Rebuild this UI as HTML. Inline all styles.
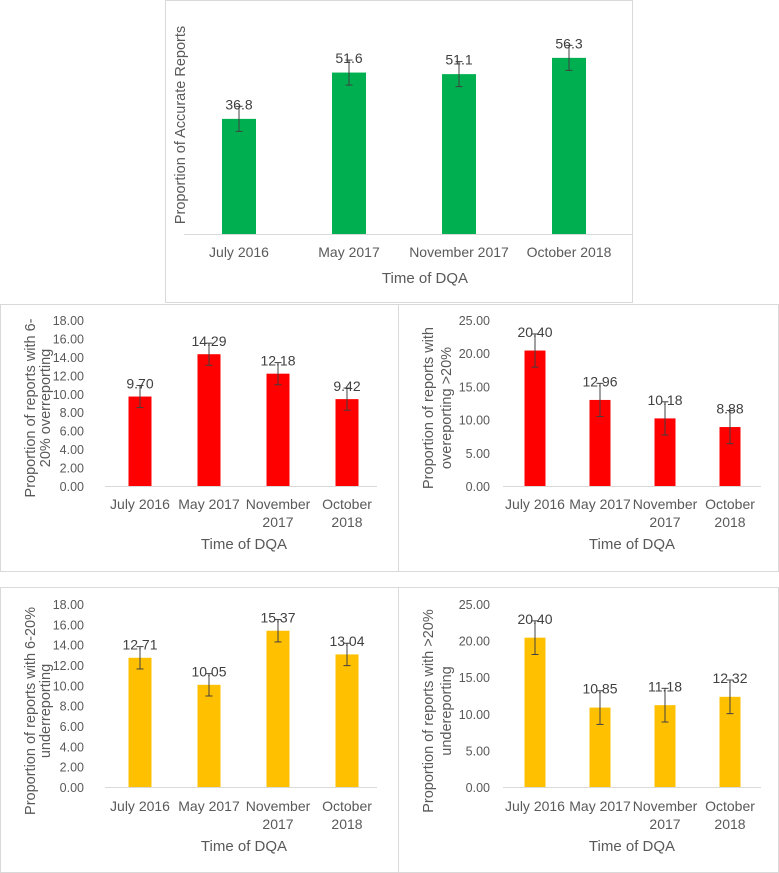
<!DOCTYPE html>
<html><head><meta charset="utf-8">
<style>
html,body{margin:0;padding:0;background:#fff;}
svg{display:block;font-family:"Liberation Sans",sans-serif;}
</style></head>
<body>
<svg id="chart" width="779" height="873" viewBox="0 0 779 873" xmlns="http://www.w3.org/2000/svg"></svg>
<script>
var categories = ["July 2016","May 2017","November 2017","October 2018"];
var accurateValues = [36.8, 51.6, 51.1, 56.3];
var accurateErrors = [4.0, 4.0, 4.0, 4.0];
var over620Values = [9.70, 14.29, 12.18, 9.42];
var over620Errors = [1.2, 1.2, 1.2, 1.2];
var over20Values = [20.40, 12.96, 10.18, 8.88];
var over20Errors = [2.5, 2.5, 2.5, 2.5];
var under620Values = [12.71, 10.05, 15.37, 13.04];
var under620Errors = [1.1, 1.1, 1.1, 1.1];
var under20Values = [20.40, 10.85, 11.18, 12.32];
var under20Errors = [2.3, 2.3, 2.3, 2.3];
var ticks18 = [0,2,4,6,8,10,12,14,16,18];
var ticks25 = [0,5,10,15,20,25];

var NS = "http://www.w3.org/2000/svg";
var svg = document.getElementById("chart");
function mk(tag, attrs, parent, text){
  var e = document.createElementNS(NS, tag);
  for (var k in attrs) e.setAttribute(k, attrs[k]);
  if (text !== undefined) e.textContent = text;
  (parent || svg).appendChild(e);
  return e;
}

function drawChart(cfg){
  var g = mk("g", {});
  
  
  var panel = mk("rect", {x:cfg.px+0.5, y:cfg.py+0.5, width:cfg.pw-1, height:cfg.ph-1, fill:"#fff", stroke:"#d9d9d9", "stroke-width":1}, g);
  
  
  function y(v){ return cfg.base - v / cfg.max * (cfg.base - cfg.top); }
  function x(i){ return cfg.x0 + i * cfg.step; }
  if (cfg.ticks){
    cfg.ticks.forEach(function(t){
      var tl = mk("text", {x:cfg.tickX, y:y(t)+5, "text-anchor":"end", "font-size":"12.5", fill:"#595959"}, g, t.toFixed(2));
      
      
    });
  }
  var ax = mk("line", {x1:cfg.ax1, x2:cfg.ax2, y1:cfg.base+0.5, y2:cfg.base+0.5, stroke:"#d9d9d9", "stroke-width":1}, g);
  
  
  cfg.values.forEach(function(v, i){
    var cx = x(i);
    var b = mk("rect", {x:cx - cfg.bw/2, y:y(v), width:cfg.bw, height:cfg.base - y(v), fill:cfg.color}, g);
    
    
    var e = cfg.errors[i];
    var eg = mk("g", {stroke:"#404040", "stroke-width":1}, g);
    
    
    mk("line", {x1:cx, x2:cx, y1:y(v+e), y2:y(v-e)}, eg);
    mk("line", {x1:cx-3.5, x2:cx+3.5, y1:y(v+e), y2:y(v+e)}, eg);
    mk("line", {x1:cx-3.5, x2:cx+3.5, y1:y(v-e), y2:y(v-e)}, eg);
    var lbl = cfg.decimals === 1 ? v.toFixed(1) : v.toFixed(2);
    var dl = mk("text", {x:cx, y:y(v+e)+3, "text-anchor":"middle", "font-size":"14", fill:"#404040"}, g, lbl);
    
    
    var c = categories[i];
    var lines = (cfg.wrap && (c.indexOf("November")===0 || c.indexOf("October")===0)) ? c.split(" ") : [c];
    lines.forEach(function(ln, j){
      var cl = mk("text", {x:cx, y:cfg.catY + j*18, "text-anchor":"middle", "font-size":"14", fill:"#595959"}, g, ln);
      
      
    });
  });
  var xt = mk("text", {x:cfg.xtX, y:cfg.xtY, "text-anchor":"middle", "font-size":"15", fill:"#595959"}, g, "Time of DQA");
  
  
  cfg.ytitle.forEach(function(ln, j){
    var tx = cfg.ytX + j*cfg.ytGap;
    var yt = mk("text", {x:tx, y:cfg.ytY, "text-anchor":"middle", "font-size":"14.5", fill:"#595959", transform:"rotate(-90 "+tx+" "+cfg.ytY+")"}, g, ln);
    
    
  });
}

drawChart({name:"accurate-reports-chart", px:165, py:0, pw:468, ph:303, top:15, base:234, max:70,
  x0:239, step:110, bw:34, color:"#00b050", values:accurateValues, errors:accurateErrors, decimals:1,
  ax1:184, ax2:632, catY:257, wrap:false, xtX:425, xtY:283, ytX:185, ytY:125, ytGap:17,
  ytitle:["Proportion of Accurate Reports"]});

drawChart({name:"overreporting-6-20-chart", px:0, py:304, pw:399, ph:268, top:320, base:486, max:18,
  x0:140, step:69, bw:23, color:"#ff0000", values:over620Values, errors:over620Errors, ticks:ticks18, tickX:84,
  ax1:105, ax2:377, catY:509, wrap:true, xtX:244, xtY:549, ytX:35, ytY:408, ytGap:15,
  ytitle:["Proportion of reports with 6-","20% overreporting"]});

drawChart({name:"overreporting-over-20-chart", px:398, py:304, pw:381, ph:268, top:320, base:486, max:25,
  x0:535, step:65, bw:21, color:"#ff0000", values:over20Values, errors:over20Errors, ticks:ticks25, tickX:490,
  ax1:503, ax2:761, catY:509, wrap:true, xtX:632, xtY:549, ytX:433, ytY:408, ytGap:18,
  ytitle:["Proportion of reports with","overeporting >20%"]});

drawChart({name:"underreporting-6-20-chart", px:0, py:587, pw:399, ph:286, top:604, base:787, max:18,
  x0:140, step:69, bw:23, color:"#ffc000", values:under620Values, errors:under620Errors, ticks:ticks18, tickX:84,
  ax1:105, ax2:377, catY:811, wrap:true, xtX:244, xtY:851, ytX:35, ytY:711, ytGap:15,
  ytitle:["Proportion of reports with 6-20%","underreporting"]});

drawChart({name:"underreporting-over-20-chart", px:398, py:587, pw:381, ph:286, top:604, base:787, max:25,
  x0:535, step:65, bw:21, color:"#ffc000", values:under20Values, errors:under20Errors, ticks:ticks25, tickX:490,
  ax1:503, ax2:761, catY:811, wrap:true, xtX:632, xtY:851, ytX:433, ytY:711, ytGap:18,
  ytitle:["Proportion of reports with >20%","undereporting"]});
</script>
</body></html>
